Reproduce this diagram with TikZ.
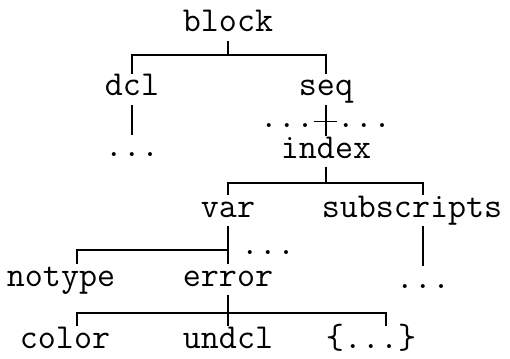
\documentclass[tikz,border=0pt]{standalone}
\tikzstyle{treenode} = [
    font=\ttfamily\fontsize{35}{40}\selectfont,
    inner sep=0pt,
    text height=22pt,
    text depth=9pt,
    anchor=base
]
\tikzstyle{branch} = [line width=1.5pt]

\begin{document}
\begin{tikzpicture}[x=1pt, y=-1pt]
\useasboundingbox (0,0) rectangle (510,358);

\node (block) [treenode] at (228,32) {block};

\node (dcl) [treenode] at (132,96) {dcl};

\node (seq) [treenode] at (326,96) {seq};

\node (dcldots) [treenode] at (132,157) {...};

\node (seqleft) [treenode] at (287,128) {...};

\node (seqright) [treenode] at (364,128) {...};

\node (index) [treenode] at (326,158) {index};

\node (var) [treenode] at (228,217) {var};

\node (subscripts) [treenode] at (412,217) {subscripts};

\node (vardots) [treenode, text depth=0pt] at (268,254) {...};

\node (notype) [treenode] at (61,286) {notype};

\node (error) [treenode] at (228,286) {error};

\node (subdots) [treenode] at (423,288) {...};

\node (color) [treenode] at (65,348) {color};

\node (undcl) [treenode] at (228,348) {undcl};

\node (more) [treenode] at (371,348) {\{...\}};

\coordinate (blockbar) at (228,55);
\coordinate (indexbar) at (326,183);
\coordinate (varbar) at (228,250);
\coordinate (errorbar) at (228,313);

\draw [branch] (block) -- (blockbar);
\draw [branch] (dcl) |- (blockbar) -| (seq);
\draw [branch] (dcl) -- (dcldots);
\draw [branch] (seq) -- (index);
\draw [branch] (seqleft) -- (seqright);
\draw [branch] (index) -- (indexbar);
\draw [branch] (var) |- (indexbar) -| ([xshift=11pt]subscripts.north);
\draw [branch] ([xshift=11pt]subscripts.south) -- (subdots);
\draw [branch] (var) -- (error);
\draw [branch] ([xshift=16pt]notype.north) |- (varbar);
\draw [branch] (error) -- (undcl);
\draw [branch] ([xshift=12pt]color.north) |- (errorbar) -| ([xshift=15pt]more.north);

\end{tikzpicture}
\end{document}
